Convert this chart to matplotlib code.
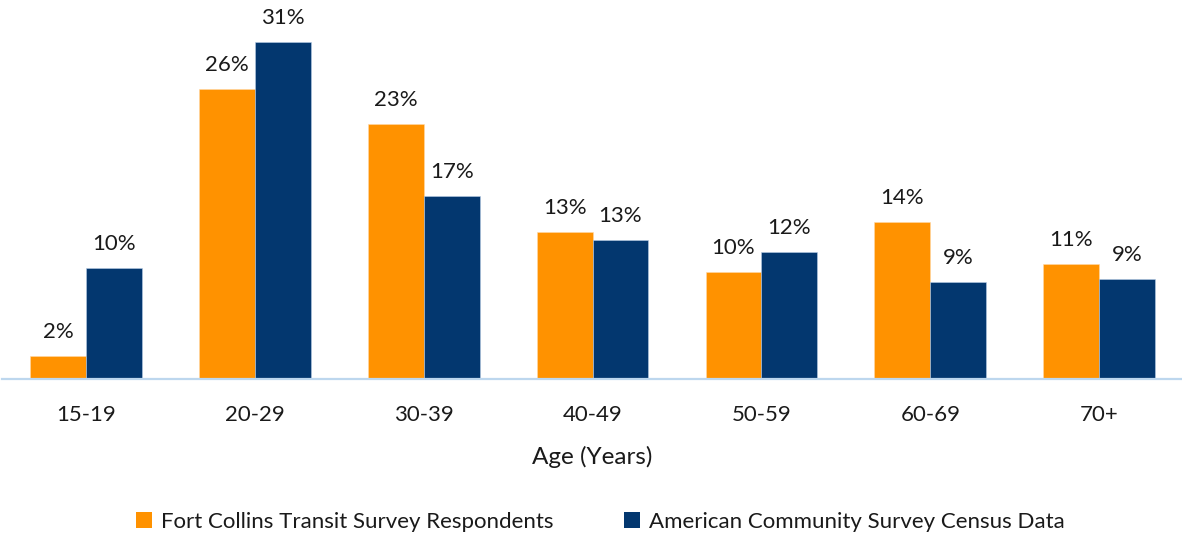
import matplotlib
matplotlib.use("Agg")
import matplotlib.pyplot as plt
from matplotlib.patches import Patch
import numpy as np

age_groups = ["15-19", "20-29", "30-39", "40-49", "50-59", "60-69", "70+"]
transfort_survey = [2.04, 26.47, 23.24, 13.36, 9.70, 14.30, 10.52]
census_acs = [10.13, 30.77, 16.68, 12.69, 11.56, 8.85, 9.09]
series_names = ["Fort Collins Transit Survey Respondents",
                "American Community Survey Census Data"]

ORANGE = "#FF9200"
NAVY = "#03376F"
AXIS_BLUE = "#BDD7EE"
TEXT = "#1a1a1a"

plt.rcParams["font.family"] = ["Lato", "DejaVu Sans"]

fig = plt.figure(figsize=(11.82, 5.35), dpi=100)
ax = fig.add_axes([0.0013, 1 - 378.5 / 535, 1.0, 378.5 / 535])

x = np.arange(len(age_groups))
w = 0.331
b1 = ax.bar(x - w / 2, transfort_survey, w, color=ORANGE, edgecolor="#FFD9A8", linewidth=0.4)
b2 = ax.bar(x + w / 2, census_acs, w, color=NAVY, edgecolor="#B9CDE6", linewidth=0.4)

for bars, vals in ((b1, transfort_survey), (b2, census_acs)):
    for rect, v in zip(bars, vals):
        ax.annotate(f"{round(v)}%", (rect.get_x() + rect.get_width() / 2, v),
                    xytext=(0, 14), textcoords="offset pixels",
                    ha="center", va="bottom", fontsize=16, color=TEXT)

ax.set_xlim(-0.5, 6.5)
ax.set_ylim(0, 378.5 / 10.93)
for s in ("top", "right", "left"):
    ax.spines[s].set_visible(False)
ax.spines["bottom"].set_color(AXIS_BLUE)
ax.spines["bottom"].set_linewidth(1.6)
ax.set_yticks([])
ax.set_xticks(x)
ax.set_xticklabels(age_groups, fontsize=16, color=TEXT)
ax.tick_params(axis="x", length=0, pad=19)
ax.set_xlabel("Age (Years)", fontsize=17.5, color=TEXT, labelpad=15)

handles = [Patch(facecolor=ORANGE), Patch(facecolor=NAVY)]
fig.legend(handles, series_names, loc="center", bbox_to_anchor=(0.508, 1 - 522 / 535),
           ncol=2, frameon=False, fontsize=16, handlelength=0.7, handleheight=0.7,
           handletextpad=0.4, columnspacing=3.2, labelcolor=TEXT)

fig.savefig("out.png", dpi=100)
